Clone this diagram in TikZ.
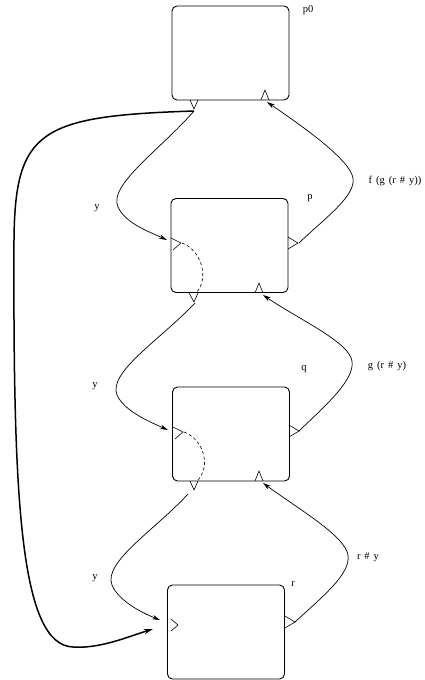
\documentclass[tikz,border=0pt]{standalone}
\usepackage{fontspec}
\setmainfont{Liberation Serif}
\usetikzlibrary{arrows.meta}
\newcommand\lblfont{\fontsize{10.5}{12}\selectfont\spaceskip 4pt\relax}
\begin{document}
\begin{tikzpicture}[x=1pt,y=-1pt,
  box/.style={draw,line width=0.9pt,rounded corners=5pt,inner sep=0pt,minimum width=117pt,minimum height=94pt},
  port/.style={line width=0.6pt},
  flow/.style={line width=0.7pt,-{Stealth[length=8pt,width=4.5pt]}},
  back/.style={line width=1.5pt,-{Stealth[length=9pt,width=5pt]}},
  inner/.style={line width=0.6pt,dash pattern=on 3pt off 2.5pt},
  lbl/.style={font=\lblfont,inner sep=0pt}]
\useasboundingbox (0,0) rectangle (424,680);

% process boxes
\node[box] (p0) at (230.5,53) {};
\node[box] (p) at (229.5,245.5) {};
\node[box] (q) at (231,434) {};
\node[box] (r) at (226,632) {};

% port positions
\coordinate (p0out) at (194,111);
\coordinate (p0in) at (267,102);
\coordinate (pinL) at (167,240);
\coordinate (pinR) at (299,243);
\coordinate (pout) at (195,303);
\coordinate (pin) at (263,295);
\coordinate (qinL) at (168,430);
\coordinate (qoutR) at (299,431);
\coordinate (qout) at (188,494);
\coordinate (qin) at (263,483);
\coordinate (rinL) at (160,620);
\coordinate (routR) at (295,622);
\coordinate (rback) at (153,629);

% port markers
\draw[port] (190,100) -- (194,109) -- (198,100);
\draw[port] (261,100) -- (265,90) -- (269,100);
\draw[port] (171,238) -- (181,243) -- (173,250);
\draw[port] (288,237) -- (298,243) -- (288,249);
\draw[port] (189,293) -- (194,302) -- (198,293);
\draw[port] (255,293) -- (259,283) -- (263,293);
\draw[port] (173,427) -- (183,432) -- (175,439);
\draw[port] (289,425) -- (299,431) -- (289,437);
\draw[port] (190,481) -- (194,490) -- (198,481);
\draw[port] (255,481) -- (259,471) -- (263,481);
\draw[port] (171,619) -- (178,625) -- (171,631);
\draw[port] (285,616) -- (295,622) -- (285,628);

% internal links
\draw[inner] (182,243) .. controls (201,250) and (210,278) .. (196,293);
\draw[inner] (184,432) .. controls (203,439) and (212,466) .. (197,481);

% downward links
\draw[flow] (p0out) .. controls (160,150) and (108,185) .. (118,207) .. controls (126,224) and (150,232) .. (pinL);
\draw[flow] (pout) .. controls (160,340) and (108,372) .. (117,395) .. controls (124,411) and (150,422) .. (qinL);
\draw[flow] (qout) .. controls (155,530) and (103,562) .. (112,585) .. controls (118,600) and (140,612) .. (rinL);

% upward links
\draw[flow] (pinR) .. controls (325,218) and (356,196) .. (353,178) .. controls (350,160) and (305,128) .. (p0in);
\draw[flow] (qoutR) .. controls (325,406) and (355,380) .. (352,361) .. controls (349,342) and (300,320) .. (pin);
\draw[flow] (routR) .. controls (322,597) and (351,574) .. (348,555) .. controls (345,536) and (300,510) .. (qin);

% outer feedback
\draw[back] (p0out) .. controls (40,116) and (15,130) .. (14,240) .. controls (13,500) and (20,645) .. (73,647) .. controls (100,649) and (130,636) .. (rback);

% labels
\node[lbl] (tp0) at (308,10) {p0};
\node[lbl] (tp) at (310,198) {p};
\node[lbl] (tq) at (304,369) {q};
\node[lbl] (tr) at (293,584) {r};
\node[lbl] (y1) at (97,208) {y};
\node[lbl] (y2) at (95,386) {y};
\node[lbl] (y3) at (95,578) {y};
\node[lbl] (f1) at (395,181) {f (g (r \# y))};
\node[lbl] (g1) at (387,366) {g (r \# y)};
\node[lbl] (r1) at (368,557) {r \# y};
\end{tikzpicture}
\end{document}
